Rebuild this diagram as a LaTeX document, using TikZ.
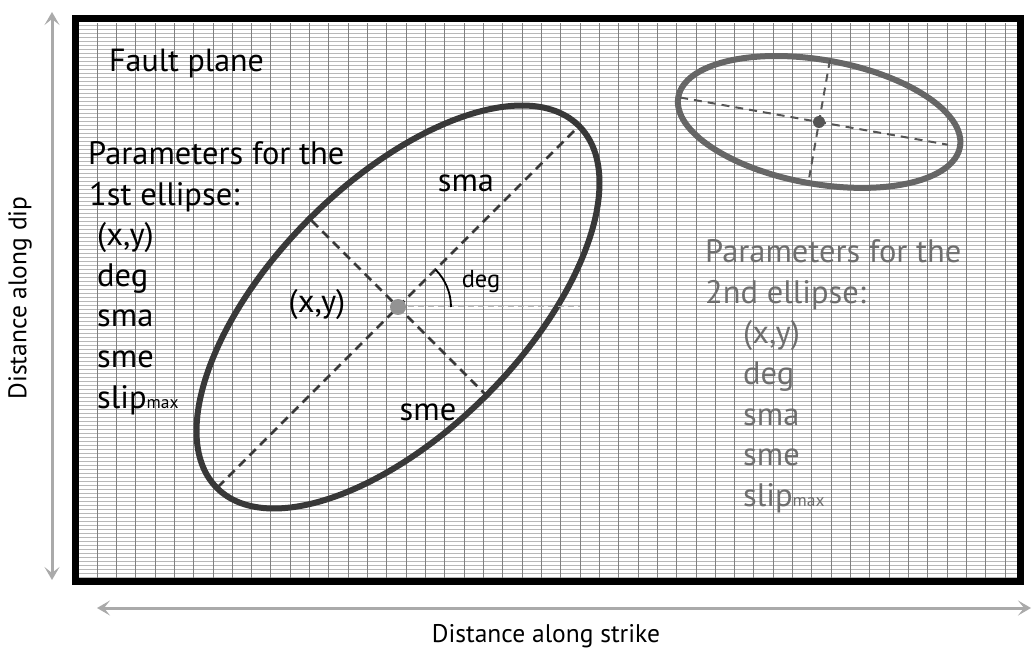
\documentclass[tikz,border=0pt]{standalone}
\usepackage{fontspec}
\setmainfont{PT Sans}
\usetikzlibrary{arrows.meta,calc}
\definecolor{eone}{HTML}{383838}
\definecolor{etwo}{HTML}{666666}
\definecolor{axtwo}{HTML}{555555}
\definecolor{txttwo}{HTML}{6E6E6E}
\definecolor{arrowgray}{HTML}{AAAAAA}
\definecolor{hgridc}{HTML}{B8B8B8}
\definecolor{vgridc}{HTML}{808080}
\tikzset{
  frame/.style={line width=7pt, draw=black},
  hgrid/.style={draw=hgridc, line width=0.7pt},
  vgrid/.style={draw=vgridc, line width=0.8pt},
  ellone/.style={draw=eone, line width=6pt},
  elltwo/.style={draw=etwo, line width=6pt},
  axone/.style={draw=eone, line width=2.6pt, dash pattern=on 9pt off 6pt},
  axtwostyle/.style={draw=axtwo, line width=2pt, dash pattern=on 8pt off 6pt},
  refline/.style={draw=gray!55, line width=1pt, dash pattern=on 6pt off 4pt},
  axisarrow/.style={draw=arrowgray, line width=3pt, {Stealth[length=13pt,width=15pt,inset=6pt]}-{Stealth[length=13pt,width=15pt,inset=6pt]}},
  bigtxt/.style={font=\fontsize{32.5}{32.5}\selectfont, inner sep=0pt, anchor=base west},
  lbl/.style={font=\fontsize{32.5}{32.5}\selectfont, inner sep=0pt, anchor=base},
  smalllbl/.style={font=\fontsize{24.5}{24.5}\selectfont, inner sep=0pt, anchor=base},
  axlbl/.style={font=\fontsize{25.5}{25.5}\selectfont, inner sep=0pt},
}
\newcommand{\slipmax}{slip{\fontsize{17.5}{17.5}\selectfont max}}
\begin{document}
\begin{tikzpicture}[x=1pt,y=1pt]
\useasboundingbox (0,0) rectangle (1032,651);
% grid
\begin{scope}
\clip (79,73.3) rectangle (1017,628.4);
\foreach \i in {0,...,140} {
  \draw[hgrid] (79,73.3+4*\i) -- (1017,73.3+4*\i);
}
\foreach \k in {-1,...,48} {
  \draw[vgrid] (97+19.32*\k,73.3) -- (97+19.32*\k,628.4);
}
\end{scope}
% frame
\draw[frame] (75.5,69.5) rectangle (1020.5,632);
% axis arrows
\coordinate (dipTop) at (52,639);
\coordinate (dipBot) at (52,71);
\coordinate (strL) at (97,43);
\coordinate (strR) at (1031,43);
\draw[axisarrow] (dipBot) -- (dipTop);
\draw[axisarrow] (strL) -- (strR);
\node[axlbl, rotate=90] (diplbl) at (20,353) {Distance along dip};
\node[axlbl] (strikelbl) at (546,15) {Distance along strike};
% ellipse 1
\coordinate (c1) at (398,344);
\draw[ellone, rotate around={45:(c1)}] (c1) ellipse [x radius=256, y radius=125];
\coordinate (maj1a) at ($(c1)+(45:255)$);
\coordinate (maj1b) at ($(c1)+(225:255)$);
\coordinate (min1a) at ($(c1)+(135:122)$);
\coordinate (min1b) at ($(c1)+(-45:126)$);
\coordinate (ref1) at (580,344);
\draw[refline] (c1) -- (ref1);
\draw[axone] (maj1b) -- (maj1a);
\draw[axone] (min1a) -- (min1b);
\draw[line width=1.8pt] ($(c1)+(0:53)$) arc[start angle=0, end angle=45, radius=53];
\fill[gray!85] (c1) circle (8);
\node[lbl] (smalab) at (466,459) {sma};
\node[lbl] (smelab) at (428,231) {sme};
\node[lbl] (xylab) at (317,338) {(x,y)};
\node[smalllbl] (deglab) at (481,363) {deg};
% ellipse 2
\coordinate (c2) at (819,529);
\draw[elltwo, rotate around={-10:(c2)}] (c2) ellipse [x radius=143, y radius=62];
\coordinate (maj2a) at ($(c2)+(170:141)$);
\coordinate (maj2b) at ($(c2)+(-10:131)$);
\coordinate (min2a) at ($(c2)+(80:63)$);
\coordinate (min2b) at ($(c2)+(260:56)$);
\draw[axtwostyle] (maj2a) -- (maj2b);
\draw[axtwostyle] (min2a) -- (min2b);
\fill[axtwo] (c2) circle (6);
% texts
\node[bigtxt, font=\fontsize{32}{32}\selectfont] (fault) at (109,579) {Fault plane};
\node[bigtxt] (p1a) at (88,486) {Parameters for the};
\node[bigtxt] (p1b) at (89,445.5) {1st ellipse:};
\node[bigtxt] (p1c) at (97,405) {(x,y)};
\node[bigtxt] (p1d) at (97,364.5) {deg};
\node[bigtxt] (p1e) at (97,324) {sma};
\node[bigtxt] (p1f) at (97,283.5) {sme};
\node[bigtxt] (p1g) at (97,243) {\slipmax};
\begin{scope}[every node/.append style={text=txttwo}]
\node[bigtxt] (p2a) at (705,388) {Parameters for the};
\node[bigtxt] (p2b) at (705,347.5) {2nd ellipse:};
\node[bigtxt] (p2c) at (743,307) {(x,y)};
\node[bigtxt] (p2d) at (743,266.5) {deg};
\node[bigtxt] (p2e) at (743,226) {sma};
\node[bigtxt] (p2f) at (743,185.5) {sme};
\node[bigtxt] (p2g) at (743,145) {\slipmax};
\end{scope}
\end{tikzpicture}
\end{document}
